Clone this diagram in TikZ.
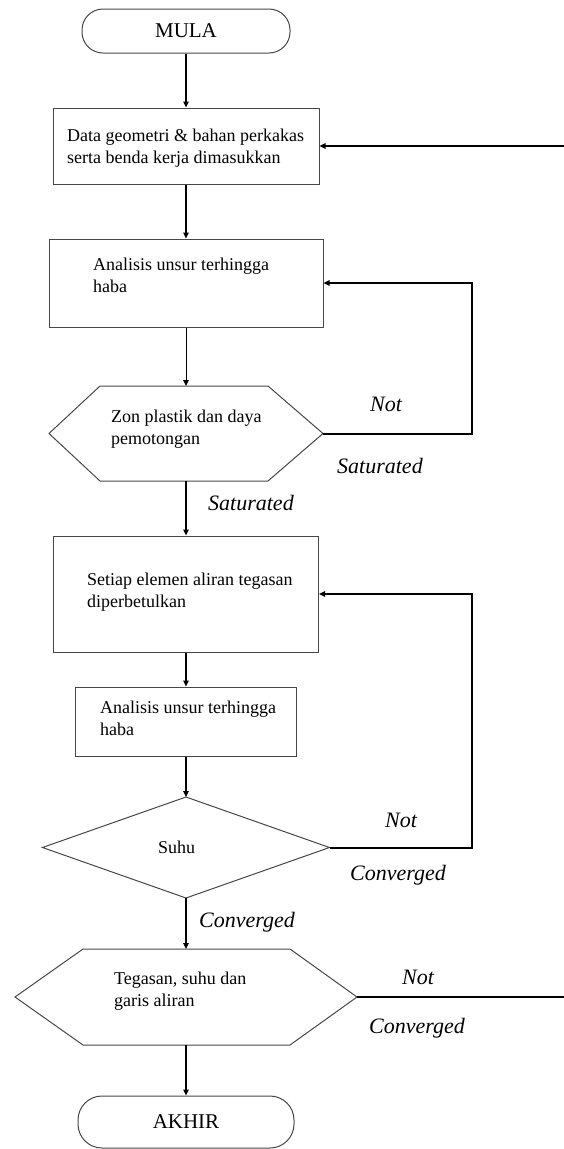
\documentclass[tikz,border=0pt]{standalone}
\usepackage{fontspec}
\setmainfont{Liberation Serif}
\usetikzlibrary{arrows.meta,calc}
\begin{document}
\begin{tikzpicture}[x=1pt,y=-1pt,
  shapeline/.style={draw=black!72,line width=1pt},
  term/.style={shapeline,inner sep=0,font=\fontsize{21}{24}\selectfont},
  boxnode/.style={shapeline,inner sep=0},
  ghost/.style={inner sep=0,outer sep=0},
  txt/.style={anchor=base west,inner sep=0,font=\fontsize{18}{21}\selectfont},
  lbl/.style={anchor=base west,inner sep=0,font=\fontsize{22}{26}\selectfont\itshape},
  flow/.style={line width=2pt,-{Triangle[length=6pt,width=5.5pt]}},
  thinflow/.style={line width=1pt,-{Triangle[length=6pt,width=5.5pt]}},
  loopline/.style={line width=2pt},
]
\useasboundingbox (0,0) rectangle (564,1149);

% shapes
\node[term,rounded corners=21pt,minimum width=208pt,minimum height=44pt] (start) at (186,31) {MULA};

\node[boxnode,minimum width=266pt,minimum height=76pt] (b1) at (186,146) {};
\node[txt] (t1a) at (67,141) {Data geometri \& bahan perkakas};
\node[txt] (t1b) at (67,163) {serta benda kerja dimasukkan};

\node[boxnode,minimum width=274pt,minimum height=88pt] (b2) at (186,283) {};
\node[txt] (t2a) at (93,270) {Analisis unsur terhingga};
\node[txt] (t2b) at (93,292) {haba};

\node[ghost,minimum width=274pt,minimum height=95pt] (h1) at (186,433.5) {};
\draw[shapeline] (h1.west) -- ($(h1.north west)+(51,0)$) -- ($(h1.north east)+(-55,0)$) -- (h1.east)
  -- ($(h1.south east)+(-55,0)$) -- ($(h1.south west)+(51,0)$) -- cycle;
\node[txt] (t3a) at (111,422) {Zon plastik dan daya};
\node[txt] (t3b) at (111,444) {pemotongan};

\node[boxnode,minimum width=265pt,minimum height=116pt] (b3) at (186,594) {};
\node[txt] (t4a) at (87,585) {Setiap elemen aliran tegasan};
\node[txt] (t4b) at (87,607) {diperbetulkan};

\node[boxnode,minimum width=221pt,minimum height=69pt] (b4) at (186,721.5) {};
\node[txt] (t5a) at (100,713) {Analisis unsur terhingga};
\node[txt] (t5b) at (100,735) {haba};

\node[ghost,minimum width=287pt,minimum height=101pt] (d) at (186,847.5) {};
\draw[shapeline] (d.west) -- (d.north) -- (d.east) -- (d.south) -- cycle;
\node[txt] (t6) at (158,853) {Suhu};

\node[ghost,minimum width=342pt,minimum height=96pt] (h2) at (186,997) {};
\draw[shapeline] (h2.west) -- ($(h2.north west)+(68,0)$) -- ($(h2.north east)+(-67,0)$) -- (h2.east)
  -- ($(h2.south east)+(-67,0)$) -- ($(h2.south west)+(68,0)$) -- cycle;
\node[txt] (t7a) at (114,984) {Tegasan, suhu dan};
\node[txt] (t7b) at (114,1006) {garis aliran};

\node[term,rounded corners=24pt,minimum width=216pt,minimum height=52pt] (stop) at (186,1122) {AKHIR};

% main flow
\draw[flow] (start) -- (b1);
\draw[flow] (b1) -- (b2);
\draw[thinflow] (b2) -- (h1.north);
\draw[flow] (h1.south) -- (b3);
\draw[flow] (b3) -- (b4);
\draw[flow] (b4) -- (d.north);
\draw[flow] (d.south) -- (h2.north);
\draw[flow] (h2.south) -- (stop);

% loops
\coordinate (lx) at (472,0);
\draw[flow] (h1.east) -- (h1.east -| lx) -- (lx |- b2.east) -- (b2.east);
\draw[flow] (d.east) -- (d.east -| lx) -- (lx |- b3.east) -- (b3.east);
\coordinate (r1) at (564,146);
\coordinate (r2) at (564,997);
\draw[flow] (r1) -- (b1.east);
\draw[loopline] (h2.east) -- (r2);

% labels
\node[lbl] (n1) at (370,411) {Not};
\node[lbl] (s1) at (337,473) {Saturated};
\node[lbl] (s2) at (208,510) {Saturated};
\node[lbl] (n2) at (385,827) {Not};
\node[lbl] (c1) at (350,880) {Converged};
\node[lbl] (c2) at (199,927) {Converged};
\node[lbl] (n3) at (402,984) {Not};
\node[lbl] (c3) at (369,1033) {Converged};
\end{tikzpicture}
\end{document}
